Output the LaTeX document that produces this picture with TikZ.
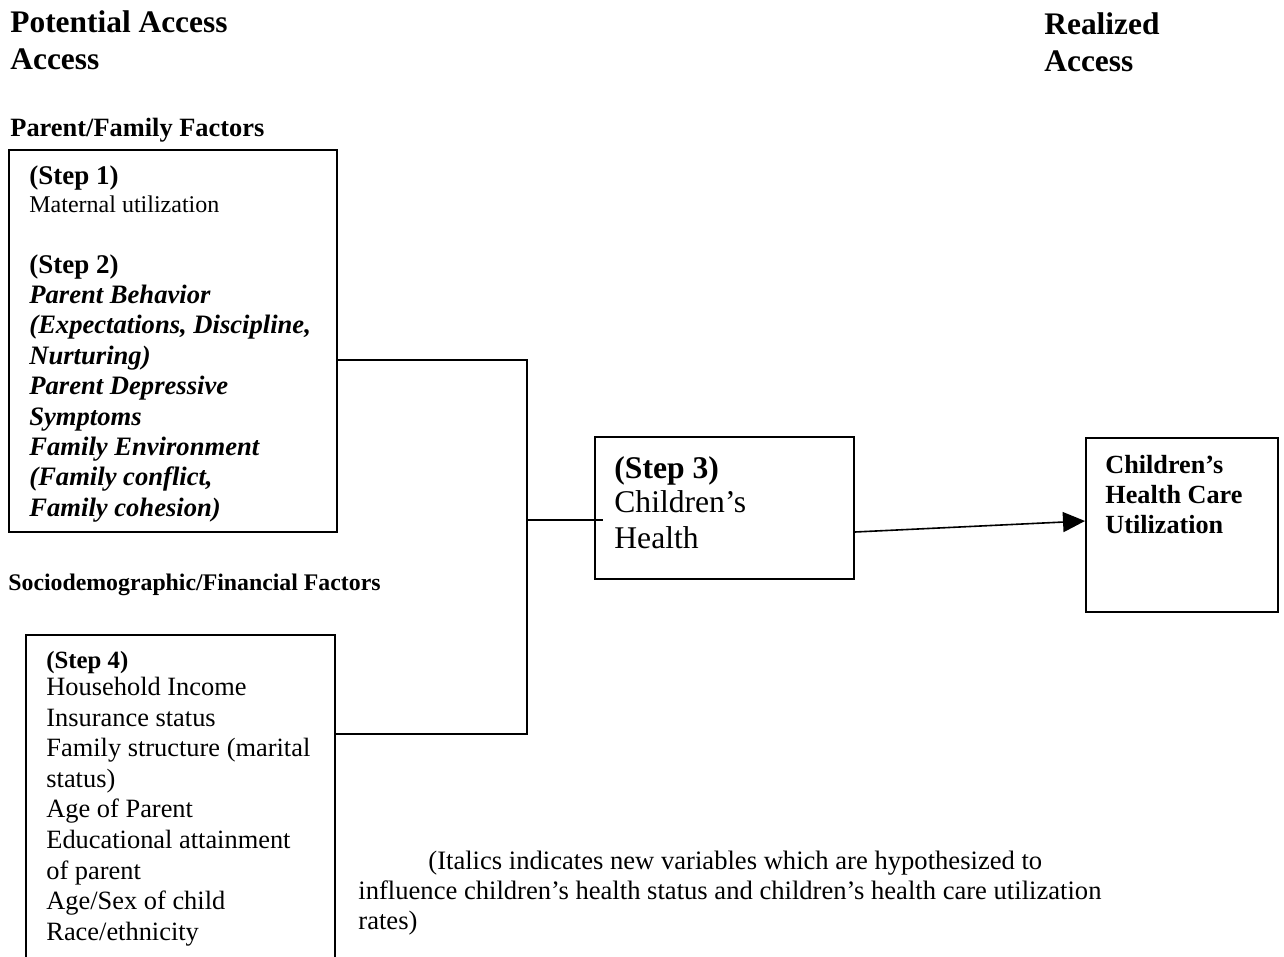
\documentclass[tikz,border=0pt]{standalone}
\usepackage{fontspec}
\setmainfont{Liberation Serif}
\usetikzlibrary{calc,arrows.meta}
\newcommand\blk[1]{\begin{tabular}[t]{@{}l@{}}#1\end{tabular}}
\newcommand\fsz[2]{\fontsize{#1}{#2}\selectfont}
\begin{document}
\begin{tikzpicture}[x=0.5pt,y=-0.5pt,
  box/.style={draw, line width=1pt, inner sep=0pt, anchor=north west},
  txt/.style={anchor=base west, inner sep=0pt},
  conn/.style={line width=0.8pt},
  arr/.style={line width=0.8pt, -{Triangle[length=11pt,width=10pt]}}]
\useasboundingbox (0,0) rectangle (1284,957);
% headings
\node[txt, font=\fsz{15.7}{18.5}\bfseries] (hdrL) at (10,33) {\blk{Potential Access\\Access}};
\node[txt, font=\fsz{15.7}{18.5}\bfseries] (hdrR) at (1044,35) {\blk{Realized\\Access}};
\node[txt, font=\fsz{13.2}{15}\bfseries] (lblPF) at (10,137) {Parent/Family Factors};
\node[txt, font=\fsz{11.9}{14}\bfseries] (lblSF) at (8,590) {Sociodemographic/Financial Factors};
% boxes
\node[box, minimum width=164pt, minimum height=191pt] (box1) at (8,149) {};
\node[box, minimum width=154.5pt, minimum height=168pt] (box4) at (25,634) {};
\node[box, minimum width=129.5pt, minimum height=71pt] (box3) at (594,436) {};
\node[box, minimum width=96pt, minimum height=87pt] (box5) at (1085,437) {};
% box texts
\node[txt, font=\fsz{13.5}{13.5}] (t1a) at (29,185) {\blk{\textbf{(Step 1)}\\{\fsz{12}{13.5}Maternal utilization}}};
\node[txt, font=\fsz{13.3}{15.2}\bfseries] (t1b) at (29,273) {\blk{{\fsz{13.5}{15.2}(Step 2)}\\
  \textit{Parent Behavior}\\
  \textit{(Expectations, Discipline,}\\
  \textit{Nurturing)}\\
  \textit{Parent Depressive}\\
  \textit{Symptoms}\\
  \textit{Family Environment}\\
  \textit{(Family conflict,}\\
  \textit{Family cohesion)}}};
\node[txt, font=\fsz{13.2}{15.3}] (t4) at (46,668) {\blk{{\fsz{12.4}{15.3}\textbf{(Step 4)}}\\[-1.6pt]
  Household Income\\
  Insurance status\\
  Family structure (marital\\
  status)\\
  Age of Parent\\
  Educational attainment\\
  of parent\\
  Age/Sex of child\\
  Race/ethnicity}};
\node[txt, font=\fsz{15.8}{17}] (t3) at (614,478) {\blk{\textbf{(Step 3)}\\Children’s\\[1pt]Health}};
\node[txt, font=\fsz{13.1}{15}\bfseries] (t5) at (1105,473) {\blk{Children’s\\Health Care\\Utilization}};
\node[txt, font=\fsz{13.3}{15}] (note) at (358,869) {\blk{\hspace*{35pt}(Italics indicates new variables which are hypothesized to\\
  influence children’s health status and children’s health care utilization\\
  rates)}};
% connectors
\coordinate (jt) at (527,360);
\coordinate (jm) at (527,520);
\coordinate (jb) at (527,734);
\draw[conn] (jt -| box1.east) -- (jt) -- (jb) -- (jb -| box4.east);
\draw[conn] (jm) -- ($(jm -| box3.west)+(9,0)$);
\draw[arr] ($(box3.east)+(0,24)$) -- ($(box5.west)+(0,-4)$);
\end{tikzpicture}
\end{document}
